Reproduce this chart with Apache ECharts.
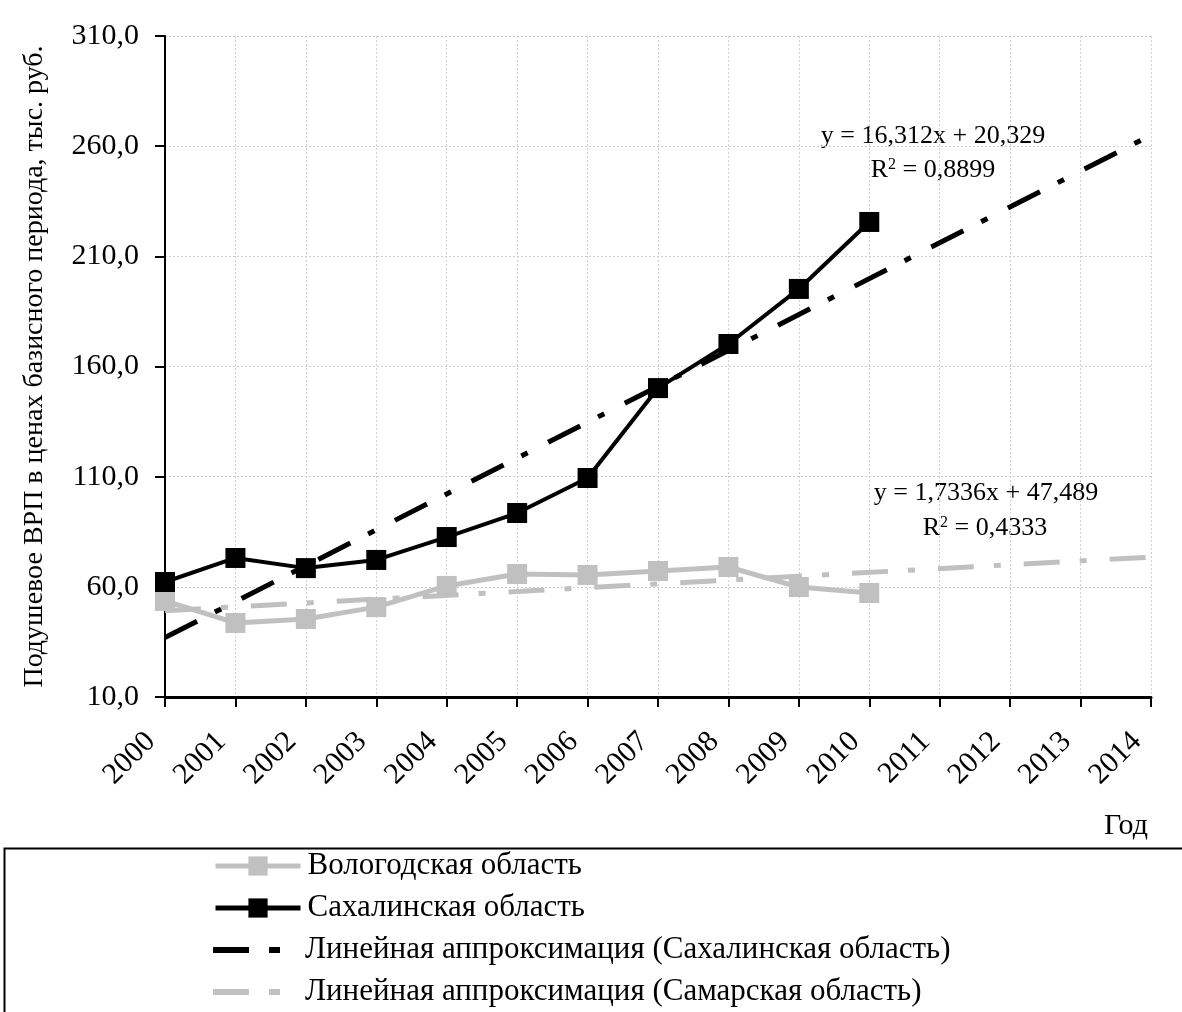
<!DOCTYPE html>
<html>
<head>
<meta charset="utf-8">
<script src="https://cdn.jsdelivr.net/npm/echarts@6/dist/echarts.min.js"></script>
<style>html,body{margin:0;padding:0;background:#fff;}#c{width:1182px;height:1012px;}</style>
</head>
<body>
<div id="c"></div>
<script>
const years = [2000, 2001, 2002, 2003, 2004, 2005, 2006, 2007, 2008, 2009, 2010];
const vologda = [53.6, 43.6, 45.4, 50.8, 60.4, 65.8, 65.4, 67.2, 69.0, 59.9, 57.2];
const sakhalin = [62.2, 73.1, 68.5, 72.2, 82.6, 93.5, 109.4, 150.2, 170.2, 195.2, 225.6];
const trendYears = [2000, 2014];
const trendSakhalin = [37.0, 265.0];
const trendSamara = [49.2, 73.5];
const seriesNames = ['Вологодская область', 'Сахалинская область', 'Линейная аппроксимация (Сахалинская область)', 'Линейная аппроксимация (Самарская область)'];
const eq1 = ['y = 16,312x + 20,329', '0,8899'];
const eq2 = ['y = 1,7336x + 47,489', '0,4333'];

const FONT = 'Liberation Serif';
const pair = (xs, ys) => xs.map((x, i) => [x, ys[i]]);
const DASH = [36, 20, 7, 23];
// dash-dot legend icon in an 85x20 box (tiny corner squares fix the bounding box)
const trendIcon = 'path://M0,0h0.01v0.01h-0.01z M85,20h-0.01v-0.01h0.01z M0,7h36v6h-36z M56,7h11v6h-11z';

const legendRowCenters = [866, 908, 950, 992];
const legendLineWidths = [5, 5, 0, 0];
const legends = seriesNames.map((n, i) => {
  const ih = i >= 2 ? 20 : 24;
  return {
    orient: 'horizontal', left: 213, top: legendRowCenters[i] - 16, padding: 0,
    itemWidth: 85, itemHeight: ih,
    lineStyle: i >= 2 ? {} : { width: legendLineWidths[i] },
    textStyle: { fontSize: 31, lineHeight: 32, fontFamily: FONT, color: '#000', padding: [0, 0, 0, 2] },
    data: [i >= 2 ? { name: n, icon: trendIcon } : { name: n }]
  };
});

const eqRich = {
  a: { fontSize: 26, fontFamily: FONT, color: '#000' },
  s: { fontSize: 16, fontFamily: FONT, color: '#000', verticalAlign: 'top', lineHeight: 14 }
};

const chart = echarts.init(document.getElementById('c'));
chart.setOption({
  animation: false,
  backgroundColor: '#fff',
  textStyle: { fontFamily: FONT, color: '#000' },
  grid: { left: 165, right: 31, top: 36, bottom: 315 },
  xAxis: {
    type: 'value', min: 2000, max: 2014, interval: 1,
    axisLine: { lineStyle: { color: '#000', width: 3 } },
    axisTick: { show: true, length: 10, lineStyle: { color: '#000', width: 2 } },
    axisLabel: { rotate: 45, fontSize: 30, fontFamily: FONT, color: '#000', margin: 26, padding: [0, 20, 0, 0], formatter: v => String(v) },
    splitLine: { show: true, lineStyle: { color: '#cfcfcf', type: [2, 2], width: 1 } }
  },
  yAxis: {
    type: 'value', min: 10, max: 310, interval: 50,
    name: 'Подушевое ВРП в ценах базисного периода, тыс. руб.',
    nameLocation: 'middle', nameGap: 116, nameRotate: 90,
    nameTextStyle: { fontSize: 28, fontFamily: FONT, color: '#000' },
    axisLine: { show: true, lineStyle: { color: '#000', width: 2 } },
    axisTick: { show: true, length: 10, lineStyle: { color: '#000', width: 2 } },
    axisLabel: { fontSize: 30, fontFamily: FONT, color: '#000', margin: 26, formatter: v => v.toFixed(1).replace('.', ',') },
    splitLine: { show: true, lineStyle: { color: '#cfcfcf', type: [2, 2], width: 1 } }
  },
  legend: legends,
  series: [
    {
      name: seriesNames[3], type: 'line', data: pair(trendYears, trendSamara),
      symbol: 'none', z: 2,
      lineStyle: { color: '#c0c0c0', width: 5, type: DASH },
      itemStyle: { color: '#c0c0c0' }
    },
    {
      name: seriesNames[0], type: 'line', data: pair(years, vologda),
      symbol: 'rect', symbolSize: 20, z: 3,
      lineStyle: { color: '#c0c0c0', width: 5 },
      itemStyle: { color: '#c0c0c0' }
    },
    {
      name: seriesNames[2], type: 'line', data: pair(trendYears, trendSakhalin),
      symbol: 'none', z: 4,
      lineStyle: { color: '#000', width: 5, type: DASH },
      itemStyle: { color: '#000' }
    },
    {
      name: seriesNames[1], type: 'line', data: pair(years, sakhalin),
      symbol: 'rect', symbolSize: 20, z: 5,
      lineStyle: { color: '#000', width: 4 },
      itemStyle: { color: '#000' }
    }
  ],
  graphic: [
    { type: 'rect', left: 2, top: 846, shape: { width: 1200, height: 200 }, style: { fill: 'none', stroke: '#000', lineWidth: 2 }, silent: true },
    { type: 'text', x: 1148, y: 826, style: { text: 'Год', fontSize: 30, fontFamily: FONT, fill: '#000', align: 'right', verticalAlign: 'middle' } },
    { type: 'text', x: 933, y: 136, style: { text: eq1[0], fontSize: 26, fontFamily: FONT, fill: '#000', align: 'center', verticalAlign: 'middle' } },
    { type: 'text', x: 933, y: 170, style: { text: '{a|R}{s|2}{a| = ' + eq1[1] + '}', align: 'center', verticalAlign: 'middle', rich: eqRich } },
    { type: 'text', x: 986, y: 493, style: { text: eq2[0], fontSize: 26, fontFamily: FONT, fill: '#000', align: 'center', verticalAlign: 'middle' } },
    { type: 'text', x: 985, y: 528, style: { text: '{a|R}{s|2}{a| = ' + eq2[1] + '}', align: 'center', verticalAlign: 'middle', rich: eqRich } }
  ]
});
</script>
</body>
</html>
